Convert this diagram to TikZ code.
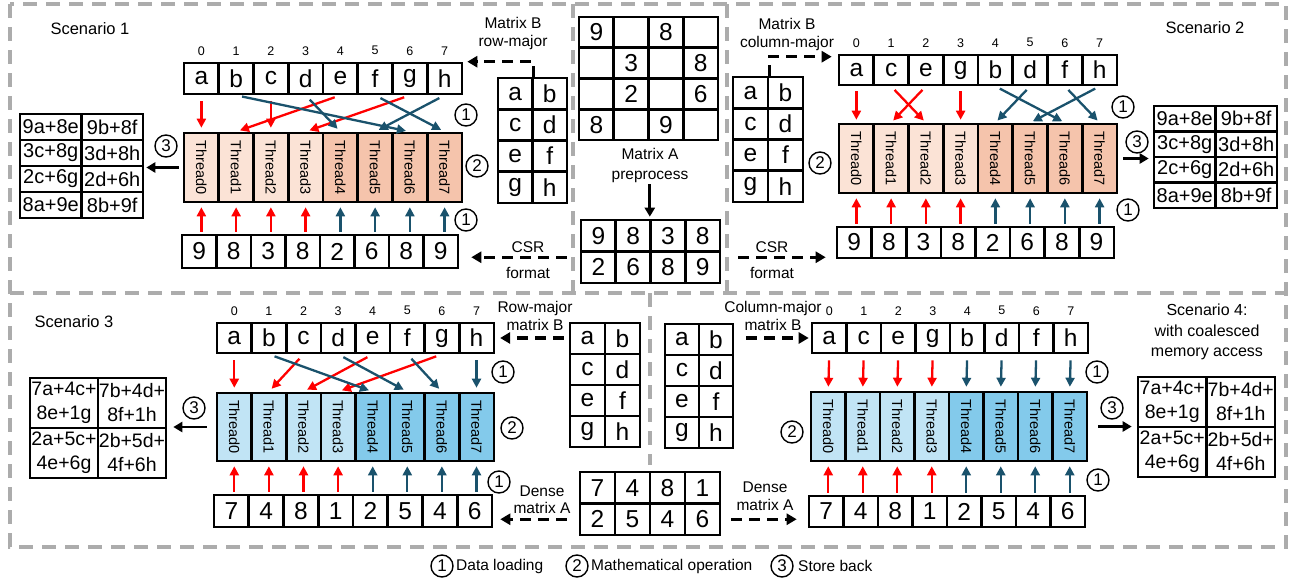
\documentclass[tikz,border=0pt]{standalone}
\usepackage{fontspec}
\setmainfont{Liberation Sans}
\usepackage{graphicx}
\usetikzlibrary{arrows.meta,calc}
\definecolor{rd}{RGB}{255,0,0}
\definecolor{bl}{RGB}{26,82,108}
\definecolor{pk1}{RGB}{251,227,214}
\definecolor{pk2}{RGB}{245,196,172}
\definecolor{bu1}{RGB}{193,228,245}
\definecolor{bu2}{RGB}{131,202,235}
\definecolor{gr}{RGB}{172,172,172}
\newcommand{\fs}[2]{\fontsize{#1}{#2}\selectfont}
% name, x0, y0, w, h, ncols, style, list
\newcommand{\mgrid}[8]{%
  \foreach \t [count=\k from 0] in {#8} {%
    \pgfmathtruncatemacro{\rowi}{floor(\k/#6)}%
    \pgfmathtruncatemacro{\coli}{mod(\k,#6)}%
    \node[cell,#7,minimum width=#4pt,minimum height=#5pt] (#1\rowi\coli) at ({#2+#4*(\coli+0.5)},{#3+#5*(\rowi+0.5)}) {\t};
  }}
% name, x0, y0, w, h, fillA, fillB
\newcommand{\thrrow}[7]{%
  \foreach \i in {0,...,7} {%
    \ifnum\i<4 \def\thf{#6}\else\def\thf{#7}\fi
    \node[thr,fill=\thf,minimum width=#4pt,minimum height=#5pt] (#1\i) at ({#2+#4*(\i+0.5)},{#3+#5/2}) {\rotatebox{-90}{Thread\i}};
  }}
\newcommand{\idxrow}[2]{%
  \foreach \i in {0,...,7} {\node[idx] (#1\i) at ([yshift=11pt]#20\i.north) {\i};}}
\begin{document}
\begin{tikzpicture}[x=1pt,y=-1pt,
  cell/.style={draw,line width=2.6pt,inner sep=0pt,font=\fs{24.5}{28}},
  thr/.style={draw,line width=2.6pt,inner sep=0pt,font=\fs{14.5}{17}},
  idx/.style={inner sep=0pt,font=\fs{12.5}{14}},
  res/.style={font=\fs{20}{23}},
  res2/.style={font=\fs{19.5}{24},align=center},
  lab/.style={inner sep=0pt,align=center,font=\fs{15.5}{18}},
  ttl/.style={inner sep=0pt,align=center,font=\fs{16.5}{20.5}},
  circ/.style={circle,draw,line width=1.4pt,minimum size=22pt,inner sep=0pt,font=\fs{17}{17}},
  rarr/.style={draw=rd,line width=2.3pt,-{Triangle[length=9pt,width=9pt]}},
  barr/.style={draw=bl,line width=2.3pt,-{Triangle[length=9pt,width=9pt]}},
  karr/.style={draw=black,line width=2.7pt,-{Triangle[length=9pt,width=10pt]}},
  darr/.style={draw=black,line width=3.3pt,dash pattern=on 11pt off 7pt,-{Triangle[length=10pt,width=11pt]}},
  frame/.style={draw=gr,line width=3.2pt,dash pattern=on 14pt off 9pt},
  up/.style={shorten <=6pt,shorten >=4pt},
  lo/.style={shorten <=2pt,shorten >=4pt}]
\useasboundingbox (0,0) rectangle (1294,581);
% frames
\draw[frame] (10,4) rectangle (1286,547);
\draw[frame] (10,293) -- (1286,293);
\draw[frame] (573,4) -- (573,293);
\draw[frame] (727,4) -- (727,293);
\draw[frame] (650,293) -- (650,465);

% ---------------- Center
\mgrid{ma}{579}{17}{34.75}{30.75}{4}{}{9,{},8,{},{},3,{},8,{},2,{},6,8,{},9,{}}
\node[lab,font=\fs{15.5}{20}] (malab) at (650,165) {Matrix A\\preprocess};
\mgrid{csr}{581}{220}{34.75}{31.5}{4}{}{9,8,3,8,2,6,8,9}
\draw[karr,shorten <=2pt,shorten >=2pt] (malab.south -| ma01.east) -- (ma01.east |- csr01.north);

% ---------------- Scenario 1
\node[ttl] (s1title) at (90,29) {Scenario 1};
\mgrid{s1b}{184}{63}{34.75}{31}{8}{}{a,b,c,d,e,f,g,h}
\idxrow{s1i}{s1b}
\thrrow{s1t}{184}{133}{34.75}{69}{pk1}{pk2}
\mgrid{s1n}{182}{235}{34.5}{33}{8}{}{9,8,3,8,2,6,8,9}
\mgrid{s1r}{20}{114}{61.5}{26}{2}{res}{9a+8e,9b+8f,3c+8g,3d+8h,2c+6g,2d+6h,8a+9e,8b+9f}
\mgrid{s1m}{498}{78}{34.5}{31.25}{2}{}{a,b,c,d,e,f,g,h}
\foreach \a/\b in {0/0,4/1,2/2,6/3} \draw[rarr,up] (s1b0\a.south) -- (s1t\b.north);
\foreach \a/\b in {3/4,7/5,1/6,5/7} \draw[barr,up] (s1b0\a.south) -- (s1t\b.north);
\foreach \i in {0,...,3} \draw[rarr,lo] (s1t\i.south |- s1n0\i.north) -- (s1t\i.south);
\foreach \i in {4,...,7} \draw[barr,lo] (s1t\i.south |- s1n0\i.north) -- (s1t\i.south);
\node[circ] (s1c1) at (466,115) {1};
\node[circ] (s1c2) at (477,166) {2};
\node[circ] (s1c1b) at (466,220) {1};
\node[circ] (s1c3) at (166,146) {3};
\draw[karr,shorten <=4pt,shorten >=2pt] (s1t0.west) -- (s1t0.west -| s1r11.east);
\node[lab] (s1lab) at (513,33) {Matrix B\\row-major};
\draw[darr] (s1m00.north east) -- ++(0,-15) -- ([xshift=4pt]s1b07.north east);
\node[lab] (s1csr) at (528,247) {CSR};
\node[lab] (s1fmt) at (528,273) {format};
\draw[darr] ($(csr10.west)+(-13,-10)$) -- ($(csr10.west -| s1n07.east)+(12,-10)$);

% ---------------- Scenario 2
\node[ttl] (s2title) at (1205,28) {Scenario 2};
\mgrid{s2b}{839}{55}{34.75}{30}{8}{}{a,c,e,g,b,d,f,h}
\idxrow{s2i}{s2b}
\thrrow{s2t}{839}{124}{34.75}{69}{pk1}{pk2}
\mgrid{s2n}{837}{227}{34.6}{31}{8}{}{9,8,3,8,2,6,8,9}
\mgrid{s2m}{733}{77}{35}{31.25}{2}{}{a,b,c,d,e,f,g,h}
\mgrid{s2r}{1154}{106}{61.5}{25.5}{2}{res}{9a+8e,9b+8f,3c+8g,3d+8h,2c+6g,2d+6h,8a+9e,8b+9f}
\foreach \a/\b in {0/0,1/2,2/1,3/3} \draw[rarr,shorten <=5pt,shorten >=3pt] (s2b0\a.south) -- (s2t\b.north);
\foreach \a/\b in {4/6,5/4,6/7,7/5} \draw[barr,shorten <=5pt,shorten >=3pt] (s2b0\a.south) -- (s2t\b.north);
\foreach \i in {0,...,3} \draw[rarr,lo] (s2t\i.south |- s2n0\i.north) -- (s2t\i.south);
\foreach \i in {4,...,7} \draw[barr,lo] (s2t\i.south |- s2n0\i.north) -- (s2t\i.south);
\node[circ] (s2c1) at (1123,107) {1};
\node[circ] (s2c2) at (820,163) {2};
\node[circ] (s2c1b) at (1128,210) {1};
\node[circ] (s2c3) at (1137,142) {3};
\draw[karr,shorten <=5pt,shorten >=4pt] (s2t7.east) -- (s2t7.east -| s2r10.west);
\node[lab] (s2lab) at (787,34) {Matrix B\\column-major};
\draw[darr] (s2m00.north east) -- ++(0,-19) -- ($(s2b00.north west)+(-6,3)$);
\node[lab] (s2csr) at (772,247) {CSR};
\node[lab] (s2fmt) at (772,273) {format};
\draw[darr] ($(csr13.east)+(17,-10)$) -- ($(csr13.east -| s2n00.west)+(-10,-10)$);

% ---------------- Scenario 3
\node[ttl] (s3title) at (74,322) {Scenario 3};
\mgrid{s3b}{217}{323}{34.6}{30}{8}{}{a,b,c,d,e,f,g,h}
\idxrow{s3i}{s3b}
\thrrow{s3t}{217}{393}{34.6}{68}{bu1}{bu2}
\mgrid{s3n}{214}{495}{34.75}{32}{8}{}{7,4,8,1,2,5,4,6}
\mgrid{s3r}{30}{378}{68}{50}{2}{res2}{{7a+4c+\\8e+1g},{7b+4d+\\8f+1h},{2a+5c+\\4e+6g},{2b+5d+\\4f+6h}}
\mgrid{s3m}{570}{323}{35}{31}{2}{}{a,b,c,d,e,f,g,h}
\foreach \a/\b in {0/0,2/1,4/2,6/3} \draw[rarr,up] (s3b0\a.south) -- (s3t\b.north);
\foreach \a/\b in {1/4,3/5,5/6,7/7} \draw[barr,up] (s3b0\a.south) -- (s3t\b.north);
\foreach \i in {0,...,3} \draw[rarr,lo] (s3t\i.south |- s3n0\i.north) -- (s3t\i.south);
\foreach \i in {4,...,7} \draw[barr,lo] (s3t\i.south |- s3n0\i.north) -- (s3t\i.south);
\node[circ] (s3c1) at (503,372) {1};
\node[circ] (s3c2) at (512,428) {2};
\node[circ] (s3c1b) at (499,482) {1};
\node[circ] (s3c3) at (194,408) {3};
\draw[karr,shorten <=9pt,shorten >=6pt] (s3t0.west) -- (s3t0.west -| s3r01.east);
\node[lab] (s3lab) at (535,316) {Row-major\\matrix B};
\draw[darr,shorten <=5pt,shorten >=5pt] (s3m00.west |- s3b07.east) -- (s3b07.east);
\node[lab,font=\fs{15.5}{17}] (s3dl) at (542,500) {Dense\\matrix A};
\mgrid{dm}{580}{472}{35}{31.5}{4}{}{7,4,8,1,2,5,4,6}
\draw[darr] ($(dm10.west)+(-12,0)$) -- ($(dm10.west -| s3n07.east)+(7,0)$);

% ---------------- Scenario 4
\mgrid{s4m}{665}{324}{34}{31}{2}{}{a,b,c,d,e,f,g,h}
\node[lab] (s4lab) at (773,316) {Column-major\\matrix B};
\mgrid{s4b}{812}{323}{34.5}{30}{8}{}{a,c,e,g,b,d,f,h}
\idxrow{s4i}{s4b}
\thrrow{s4t}{811}{392}{34.5}{69}{bu1}{bu2}
\mgrid{s4n}{809}{496}{34.5}{31}{8}{}{7,4,8,1,2,5,4,6}
\mgrid{s4r}{1138}{377}{68.5}{50}{2}{res2}{{7a+4c+\\8e+1g},{7b+4d+\\8f+1h},{2a+5c+\\4e+6g},{2b+5d+\\4f+6h}}
\foreach \i in {0,...,3} \draw[rarr,up] (s4b0\i.south) -- (s4t\i.north);
\foreach \i in {4,...,7} \draw[barr,up] (s4b0\i.south) -- (s4t\i.north);
\foreach \i in {0,...,3} \draw[rarr,lo] (s4t\i.south |- s4n0\i.north) -- (s4t\i.south);
\foreach \i in {4,...,7} \draw[barr,lo] (s4t\i.south |- s4n0\i.north) -- (s4t\i.south);
\node[circ] (s4c2) at (792,432) {2};
\node[circ] (s4c1) at (1097,372) {1};
\node[circ] (s4c1b) at (1098,480) {1};
\node[circ] (s4c3) at (1112,408) {3};
\draw[karr,shorten <=10pt,shorten >=5pt] (s4t7.east) -- (s4t7.east -| s4r10.west);
\node[ttl,font=\fs{16}{20.5}] (s4title) at (1207,332) {Scenario 4:\\with coalesced\\memory access};
\draw[darr,shorten <=12pt,shorten >=2pt] (s4m01.east |- s4b00.west) -- (s4b00.west);
\node[lab,font=\fs{15.5}{18}] (s4dl) at (765,496) {Dense\\matrix A};
\draw[darr] ($(dm13.east)+(10,0)$) -- ($(dm13.east -| s4n00.west)+(-11,0)$);

% ---------------- Legend
\node[circ] (lg1) at (442,566) {1};
\node[lab,anchor=west] (lgt1) at (456,566) {Data loading};
\node[circ] (lg2) at (577,566) {2};
\node[lab,anchor=west] (lgt2) at (591,566) {Mathematical operation};
\node[circ] (lg3) at (782,566) {3};
\node[lab,anchor=west] (lgt3) at (798,566) {Store back};
\end{tikzpicture}
\end{document}
